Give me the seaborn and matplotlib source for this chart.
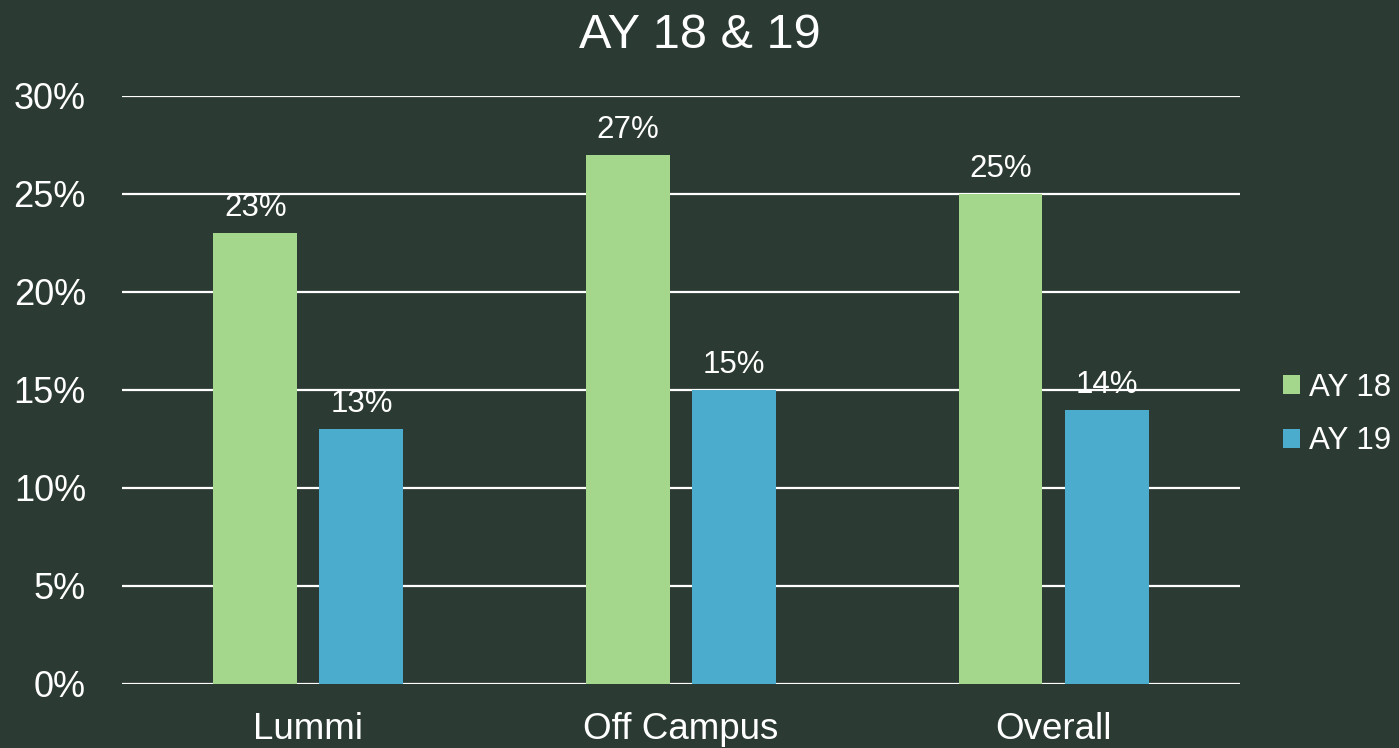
import matplotlib
matplotlib.use("Agg")
import matplotlib.pyplot as plt
import matplotlib.ticker as mticker
import pandas as pd
import seaborn as sns

# data
categories = ["Lummi", "Off Campus", "Overall"]
ay18 = [23, 27, 25]
ay19 = [13, 15, 14]
series = ["AY 18", "AY 19"]

bg = "#2B3A33"
colors = ["#A4D78C", "#4BACCE"]

df = pd.DataFrame({
    "group": categories * 2,
    "year": [series[0]] * 3 + [series[1]] * 3,
    "value": ay18 + ay19,
})

sns.set_theme(style="dark")
plt.rcParams["font.family"] = ["Liberation Sans", "DejaVu Sans"]

fig = plt.figure(figsize=(13.99, 7.48), dpi=100, facecolor=bg)
ax = fig.add_axes([0.0872, 0.0856, 0.7991, 0.7861])
ax.set_facecolor(bg)

sns.barplot(data=df, x="group", y="value", hue="year", palette=colors,
            width=0.57, gap=0.21, ax=ax, zorder=3, saturation=1,
            linewidth=0, edgecolor="none")

for cont in ax.containers:
    ax.bar_label(cont, fmt="%d%%", color="white", fontsize=22.5, padding=7)

ax.set_ylim(0, 30)
ax.set_xlim(-0.5, 2.5)
ax.yaxis.set_major_locator(mticker.MultipleLocator(5))
ax.yaxis.set_major_formatter(mticker.FuncFormatter(lambda v, p: f"{int(v)}%"))
ax.grid(axis="y", color="white", linewidth=1.6, zorder=0)
ax.grid(axis="x", visible=False)
for s in ax.spines.values():
    s.set_visible(False)
ax.tick_params(axis="y", length=0, pad=26, labelsize=26, labelcolor="white")
ax.tick_params(axis="x", length=0, pad=20, labelsize=26.5, labelcolor="white")
ax.set_xlabel("")
ax.set_ylabel("")

fig.suptitle("AY 18 & 19", y=0.982, color="white", fontsize=35)

leg = ax.legend(loc="center left", bbox_to_anchor=(1.013, 0.458), frameon=False,
                fontsize=22.5, handlelength=0.55, handleheight=0.55,
                handletextpad=0.3, labelspacing=0.75, labelcolor="white")
for h in leg.legend_handles:
    h.set_edgecolor("none")
    h.set_linewidth(0)

fig.savefig("out.png", dpi=100, facecolor=bg)
